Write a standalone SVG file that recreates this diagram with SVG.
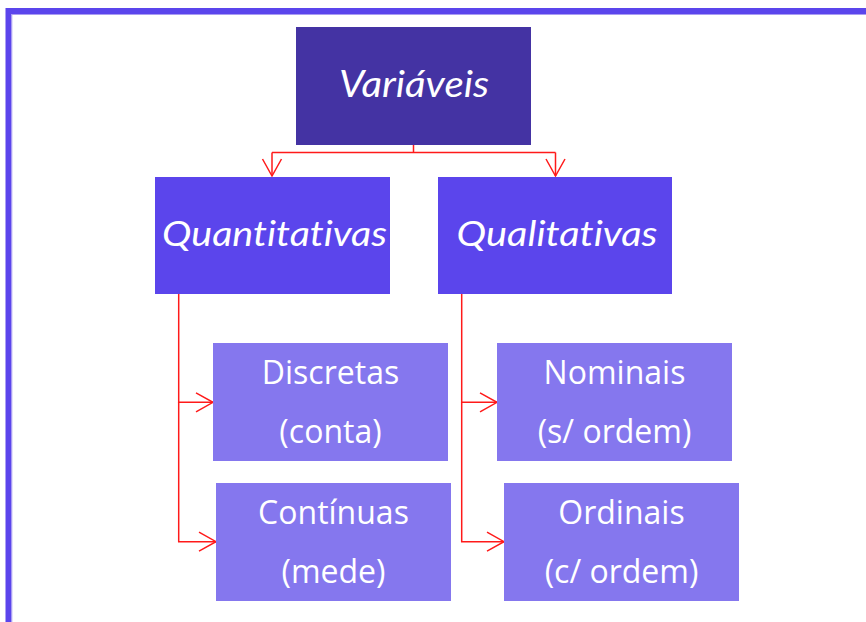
<svg xmlns="http://www.w3.org/2000/svg" width="866" height="622" viewBox="0 0 866 622">
  <defs>
    <marker id="arr" markerUnits="userSpaceOnUse" markerWidth="20" markerHeight="22" refX="0" refY="0" orient="auto" overflow="visible" viewBox="-18 -11 20 22">
      <path d="M-17,-9.5 L0,0 L-17,9.5" fill="none" stroke="#ff1a1a" stroke-width="1.5"/>
    </marker>
    <style>
      .top { fill: #4433a3; }
      .mid { fill: #5b45ec; }
      .leaf { fill: #8577ee; }
      .ti { font-family: Lato, "Open Sans", sans-serif; font-style: italic; fill: #ffffff; text-anchor: middle; font-variant-ligatures: none; }
      .tl { font-family: "Open Sans", "Noto Sans", sans-serif; font-size: 32px; fill: #ffffff; text-anchor: middle; }
      .conn { fill: none; stroke: #ff1a1a; stroke-width: 1.5; }
    </style>
  </defs>
  <rect x="0" y="0" width="866" height="622" fill="#ffffff"/>
  <g id="frame">
    <rect x="8.5" y="11" width="900" height="700" fill="none" stroke="#5b45ec" stroke-width="6"/>
    <path d="M11.8,640 V14.5 H900" fill="none" stroke="#a99cf2" stroke-width="1"/>
  </g>
  <g id="connectors">
    <path class="conn" d="M413.5,145 V152.5 M272,152.5 H555.5"/>
    <path class="conn" d="M272,152.5 V176" marker-end="url(#arr)"/>
    <path class="conn" d="M555.5,152.5 V176" marker-end="url(#arr)"/>
    <path class="conn" d="M178.7,294 V402.3 H213" marker-end="url(#arr)"/>
    <path class="conn" d="M178.7,402.3 V541.7 H216" marker-end="url(#arr)"/>
    <path class="conn" d="M461.7,294 V402.3 H497" marker-end="url(#arr)"/>
    <path class="conn" d="M461.7,402.3 V541.7 H504" marker-end="url(#arr)"/>
  </g>
  <g id="variaveis">
    <rect class="top" x="296" y="27" width="235" height="118"/>
    <text class="ti" x="414" y="97" font-size="36" textLength="150" lengthAdjust="spacingAndGlyphs">Variáveis</text>
  </g>
  <g id="quantitativas">
    <rect class="mid" x="155" y="177" width="235" height="117"/>
    <text class="ti" x="274.5" y="246" font-size="35" textLength="225" lengthAdjust="spacingAndGlyphs">Quantitativas</text>
  </g>
  <g id="qualitativas">
    <rect class="mid" x="438" y="177" width="234" height="117"/>
    <text class="ti" x="557" y="246" font-size="35" textLength="201" lengthAdjust="spacingAndGlyphs">Qualitativas</text>
  </g>
  <g id="discretas">
    <rect class="leaf" x="213" y="343" width="235" height="118"/>
    <text class="tl" x="330.5" y="384">Discretas</text>
    <text class="tl" x="330.5" y="443">(conta)</text>
  </g>
  <g id="continuas">
    <rect class="leaf" x="216" y="483" width="235" height="118"/>
    <text class="tl" x="333.5" y="524">Contínuas</text>
    <text class="tl" x="333.5" y="583">(mede)</text>
  </g>
  <g id="nominais">
    <rect class="leaf" x="497" y="343" width="235" height="118"/>
    <text class="tl" x="614.5" y="384">Nominais</text>
    <text class="tl" x="614.5" y="443">(s/ ordem)</text>
  </g>
  <g id="ordinais">
    <rect class="leaf" x="504" y="483" width="235" height="118"/>
    <text class="tl" x="621.5" y="524">Ordinais</text>
    <text class="tl" x="621.5" y="583">(c/ ordem)</text>
  </g>
</svg>
